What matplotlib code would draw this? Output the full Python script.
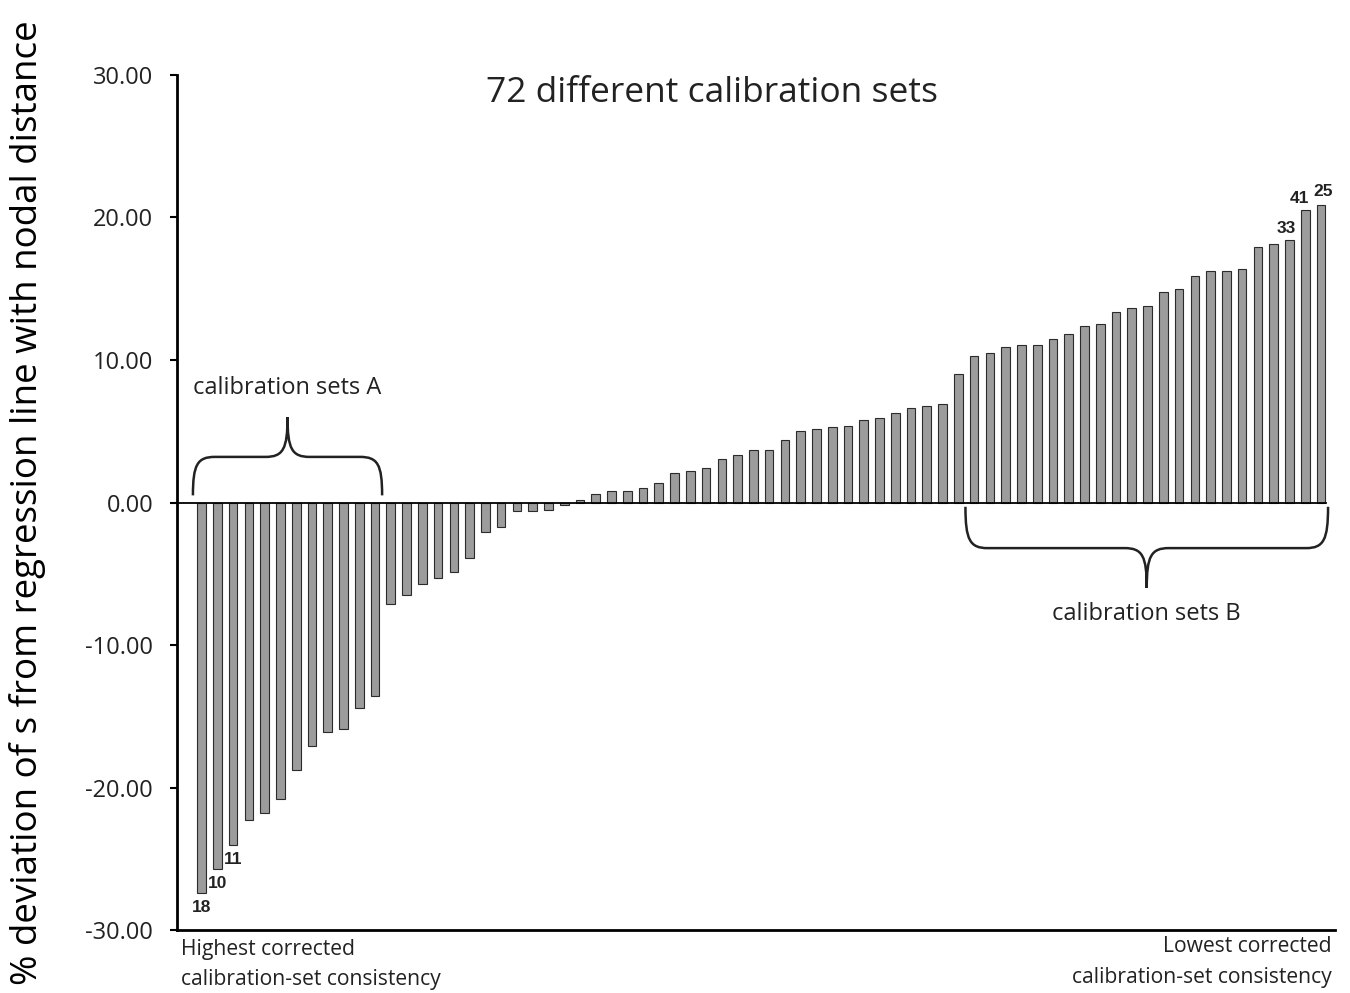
import numpy as np
import matplotlib as mpl
mpl.use("Agg")
import matplotlib.pyplot as plt
from matplotlib.path import Path
from matplotlib.patches import PathPatch

plt.rcParams.update({
    "font.family": ["Open Sans", "DejaVu Sans"],
    "font.size": 14,
})

# deviation values, sorted from highest to lowest consistency
deviation = [
    -27.4, -25.7, -24.0, -22.3, -21.8, -20.8, -18.8, -17.1, -16.1, -15.9,
    -14.4, -13.6, -7.1, -6.5, -5.7, -5.3, -4.9, -3.9, -2.1, -1.7,
    -0.6, -0.6, -0.5, -0.15, 0.15, 0.6, 0.82, 0.82, 1.03, 1.37,
    2.06, 2.2, 2.4, 3.08, 3.33, 3.7, 3.7, 4.4, 5.0, 5.17,
    5.3, 5.4, 5.79, 5.93, 6.26, 6.66, 6.79, 6.9, 9.0, 10.26,
    10.5, 10.9, 11.04, 11.04, 11.5, 11.8, 12.4, 12.54, 13.4, 13.66,
    13.78, 14.77, 15.0, 15.9, 16.26, 16.26, 16.4, 17.9, 18.15, 18.43,
    20.5, 20.9,
]
# set numbers shown next to particular bars (bar index -> label)
set_labels = {0: "18", 1: "10", 2: "11", 69: "33", 70: "41", 71: "25"}
yticks = [-30, -20, -10, 0, 10, 20, 30]

x = np.arange(len(deviation))

fig = plt.figure(figsize=(13.5, 9.93), dpi=100)
ax = fig.add_axes([0.131, 0.0634, 0.858, 0.8611])

ax.bar(x, deviation, width=0.55, color="#9c9c9c", edgecolor="#2b2b2b", linewidth=0.8, zorder=3)
ax.axhline(0, color="black", lw=1.3, xmax=0.992, zorder=4)

ax.set_xlim(-1.57, 71.9)
ax.set_ylim(-30, 30)
ax.set_xticks([])
ax.set_yticks(yticks)
ax.set_yticklabels([f"{v:.2f}" for v in yticks], fontsize=17, color="#222222")
ax.tick_params(axis="y", length=5, width=1.5, pad=12)
for s in ["top", "right"]:
    ax.spines[s].set_visible(False)
ax.spines["left"].set_linewidth(2)
ax.spines["bottom"].set_linewidth(2)

ax.set_ylabel("% deviation of s from regression line with nodal distance",
              fontsize=26.5)
ax.yaxis.set_label_coords(-0.113, 0.5)

ax.text(0.462, 0.979, "72 different calibration sets", transform=ax.transAxes,
        ha="center", va="center", fontsize=25.5, color="#222222")

# bar number labels
for i, lab in set_labels.items():
    v = deviation[i]
    if v < 0:
        ax.text(x[i], v - 0.5, lab, ha="center", va="top",
                fontsize=12.5, fontweight="bold", family="Liberation Sans", color="#222222")
    else:
        offs = {69: (-0.2, 0.3), 70: (-0.35, 0.3), 71: (0.15, 0.4)}[i]
        ax.text(x[i] + offs[0], v + offs[1], lab, ha="center", va="bottom",
                fontsize=12.5, fontweight="bold", family="Liberation Sans", color="#222222")


def brace(ax, x0, x1, yb, ym, yt, dx=1.4):
    xc = (x0 + x1) / 2
    verts = [
        (x0, yb),
        (x0, yb + 0.8 * (ym - yb)), (x0 + 0.2 * dx, ym), (x0 + dx, ym),
        (xc - dx, ym),
        (xc - 0.2 * dx, ym), (xc, ym + 0.2 * (yt - ym)), (xc, yt),
        (xc, ym + 0.2 * (yt - ym)), (xc + 0.2 * dx, ym), (xc + dx, ym),
        (x1 - dx, ym),
        (x1 - 0.2 * dx, ym), (x1, yb + 0.8 * (ym - yb)), (x1, yb),
    ]
    codes = [Path.MOVETO,
             Path.CURVE4, Path.CURVE4, Path.CURVE4,
             Path.LINETO,
             Path.CURVE4, Path.CURVE4, Path.CURVE4,
             Path.CURVE4, Path.CURVE4, Path.CURVE4,
             Path.LINETO,
             Path.CURVE4, Path.CURVE4, Path.CURVE4]
    ax.add_patch(PathPatch(Path(verts, codes), fill=False, lw=1.8,
                           edgecolor="#222222", zorder=5, clip_on=False))


brace(ax, -0.55, 11.45, 0.5, 3.2, 6.0)
ax.text(5.45, 8.0, "calibration sets A", ha="center", va="center", fontsize=17, color="#222222")

brace(ax, 48.45, 71.45, -0.3, -3.2, -6.0)
ax.text(59.95, -7.8, "calibration sets B", ha="center", va="center", fontsize=17, color="#222222")

fig.text(181 / 1350, 1 - 950 / 993, "Highest corrected", ha="left", va="center",
         fontsize=15.2, color="#222222")
fig.text(181 / 1350, 1 - 979 / 993, "calibration-set consistency", ha="left", va="center",
         fontsize=15.2, color="#222222")
fig.text(1332 / 1350, 1 - 947 / 993, "Lowest corrected", ha="right", va="center",
         fontsize=15.2, color="#222222")
fig.text(1332 / 1350, 1 - 977 / 993, "calibration-set consistency", ha="right", va="center",
         fontsize=15.2, color="#222222")

fig.savefig("out.png", dpi=100)
